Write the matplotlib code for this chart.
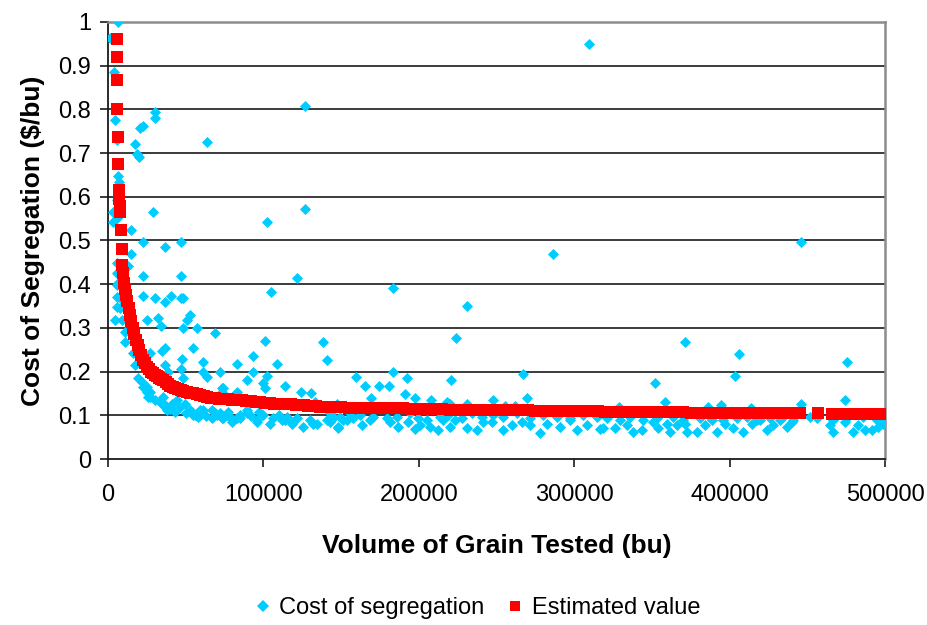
import matplotlib
matplotlib.use("Agg")
import matplotlib.pyplot as plt
from matplotlib.lines import Line2D
from matplotlib.ticker import FixedLocator, FuncFormatter

plt.rcParams["font.family"] = ["Liberation Sans", "DejaVu Sans"]

# observed segregation cost per bushel vs. volume tested
seg_volume = [
    6400, 1300, 3900, 4500, 5500, 30200, 30200, 20600, 22500, 63700, 17400, 18700,
    19900, 6400, 7100, 5500, 3200, 29000, 5500, 3200, 102300, 14800, 22500, 36700,
    47000, 126800, 126800, 309500, 286400, 446000, 231000, 47000, 121600, 183400,
    104900, 14800, 12900, 6400, 22500, 5500, 5500, 6600, 5500, 22500, 30200, 36700,
    40500, 47000, 48300, 7700, 5500, 7700, 5500, 4500, 8800, 25100, 32400, 33900,
    52800, 51000, 48100, 57100, 68900, 10900, 10900, 101000, 138200, 140700, 223900,
    371300, 406100, 475300, 54900, 36700, 34500, 27000, 16300, 47400, 61300, 93100,
    82800, 108600, 17400, 36700, 38800, 47000, 61300, 63500, 48500, 72100, 93100,
    89300, 102100, 99500, 101000, 73200, 74200, 113900, 124000, 130400, 73200,
    82800, 133200,
    19500, 21900, 24900, 27000, 25900, 22700, 24900, 27000, 30200, 33500, 35600,
    37800, 41000, 44200, 46300, 49500, 52800, 56000, 61300, 66700, 69900, 73200,
    76400, 34500, 36700, 54900, 59200, 37800, 53800, 59200, 77400, 69000, 74000,
    79600, 82800, 89300, 95700, 104200, 113900, 119200, 125700, 132100, 142900,
    148200,
    74200, 80600, 84900, 89300, 95700, 99900, 111800, 115000, 118200, 121400,
    130000, 134300, 140700, 145000, 151400,
    40000, 43000, 50000, 58000, 63000, 67000, 72000, 78000, 85000, 92000, 97000,
    106000, 110000,
    159600, 183200, 192200, 220500, 266900, 165400, 174600, 181000, 169000, 191100,
    197600, 207700, 218000, 220100, 230800, 247600, 269400, 255500, 261900, 147200,
    145000, 148200, 153600, 157900, 163300, 168600, 181500, 186800, 193300, 197600,
    200800, 207200, 212600, 215800, 220100, 223300, 230800, 237300, 241500, 246900,
    254400, 259800, 266200, 271600, 278000, 282300, 290900, 297300, 301600, 308000,
    316600,
    142900, 149300, 155700, 162200, 170700, 179300, 185800, 194300, 199700, 205100,
    213600, 219000, 227600, 234000, 240400, 247900, 254400, 263000, 271600, 280100,
    288700, 297300, 305900, 314500,
    352000, 403500, 358400, 329000, 386300, 394300, 413600, 445700, 474300, 456000,
    318700, 326200, 333800, 338000, 343400, 350900, 354100, 359500, 361600, 365900,
    371300, 372400, 378800, 384200, 388500, 391700, 397000, 402400, 408800, 414200,
    419600, 423900, 428100, 432400, 436700, 439900, 464600, 466700, 474300, 479600,
    482800, 487100, 491400, 495700, 498900,
    320900, 329500, 335900, 344500, 353100, 363800, 370300, 380900, 387400, 396000,
    404600, 411000, 417500, 426000, 434600, 441000, 451700, 466700, 475300, 486000,
    494700,
]
seg_cost = [
    1.000, 0.963, 0.886, 0.776, 0.730, 0.794, 0.780, 0.757, 0.762, 0.725, 0.721, 0.698,
    0.691, 0.648, 0.634, 0.593, 0.565, 0.565, 0.552, 0.542, 0.542, 0.524, 0.497, 0.485,
    0.497, 0.808, 0.572, 0.950, 0.469, 0.497, 0.350, 0.419, 0.414, 0.391,
    0.382, 0.469, 0.442, 0.423, 0.419, 0.449, 0.425, 0.402, 0.398, 0.373, 0.368, 0.359,
    0.373, 0.368, 0.368, 0.368, 0.371, 0.345, 0.348, 0.318, 0.318, 0.318, 0.322, 0.304,
    0.330, 0.318, 0.299, 0.299, 0.288, 0.291, 0.268, 0.271, 0.267, 0.227, 0.276,
    0.268, 0.240, 0.223, 0.253, 0.253, 0.246, 0.242, 0.242, 0.228, 0.223, 0.236,
    0.217, 0.217, 0.215, 0.215, 0.200, 0.207, 0.200, 0.188, 0.185, 0.200, 0.200,
    0.181, 0.190, 0.173, 0.162, 0.162, 0.162, 0.167, 0.154, 0.150, 0.154,
    0.154, 0.131,
    0.185, 0.176, 0.165, 0.153, 0.143, 0.165, 0.154, 0.143, 0.135, 0.131, 0.143,
    0.120, 0.127, 0.135, 0.120, 0.127, 0.112, 0.101, 0.112, 0.112, 0.101, 0.093,
    0.101, 0.131, 0.120, 0.101, 0.112, 0.112, 0.108, 0.101, 0.108, 0.105, 0.094,
    0.085, 0.093, 0.105, 0.085, 0.081, 0.089, 0.085, 0.074, 0.081, 0.085,
    0.074,
    0.097, 0.089, 0.101, 0.112, 0.089, 0.101, 0.089, 0.097, 0.081, 0.093,
    0.089, 0.081, 0.089, 0.097, 0.089,
    0.115, 0.108, 0.105, 0.095, 0.098, 0.093, 0.105, 0.098, 0.093, 0.098, 0.108,
    0.093, 0.101,
    0.188, 0.200, 0.185, 0.181, 0.195, 0.167, 0.167, 0.167, 0.139, 0.149,
    0.139, 0.135, 0.131, 0.127, 0.127, 0.135, 0.139, 0.121, 0.121, 0.127,
    0.093, 0.070, 0.089, 0.093, 0.078, 0.089, 0.085, 0.074, 0.085, 0.068,
    0.078, 0.074, 0.066, 0.089, 0.074, 0.089, 0.070, 0.066, 0.085, 0.085,
    0.066, 0.078, 0.085, 0.078, 0.060, 0.081, 0.074, 0.089, 0.066, 0.078,
    0.068,
    0.105, 0.097, 0.105, 0.101, 0.097, 0.093, 0.097, 0.105, 0.093, 0.089,
    0.097, 0.101, 0.093, 0.105, 0.097, 0.101, 0.097, 0.105, 0.093, 0.101,
    0.097, 0.093, 0.101, 0.097,
    0.175, 0.190, 0.130, 0.120, 0.120, 0.124, 0.116, 0.127, 0.135, 0.093,
    0.070, 0.070, 0.078, 0.062, 0.066, 0.085, 0.070, 0.081, 0.062, 0.078,
    0.081, 0.062, 0.062, 0.078, 0.089, 0.062, 0.081, 0.070, 0.062, 0.081,
    0.089, 0.066, 0.078, 0.089, 0.074, 0.085, 0.078, 0.062, 0.085, 0.062,
    0.078, 0.066, 0.066, 0.074, 0.081,
    0.093, 0.089, 0.097, 0.089, 0.093, 0.097, 0.089, 0.093, 0.097, 0.089,
    0.093, 0.097, 0.089, 0.093, 0.097, 0.089, 0.097, 0.089, 0.093, 0.097,
    0.089,
]

# fitted (estimated) cost curve
est_volume = [
    5500, 5600, 5700, 5800, 6200, 6400, 7000, 7300, 7600, 8000, 8400, 8800, 9300,
    9800, 10300, 10900, 11600, 12500, 13300, 14200, 15100, 16100, 17000, 18000,
    19000, 20000, 21200, 22500, 23800, 25100, 26300, 27500, 28800, 30200, 31500,
    32800, 34100, 35400, 37000, 38500, 40000, 41500, 43200, 45000, 46700, 48500,
    50600, 52800, 54900, 57000, 59200, 61500, 63900, 66300, 68900, 71500, 74300,
    77200, 80100, 83000, 86000, 89000, 92000, 95000, 98000, 101000, 104000, 107000,
    110000, 113000, 115500, 118000, 121000, 123500, 126000, 129000, 131500, 134000,
    136500, 139000, 142000, 144800, 147500,
    150000, 155000, 160000, 165000, 170000, 175000, 180000, 185000,
    190000, 195000, 200000, 205000, 210000, 215000, 220000, 225000,
    230000, 235000, 240000, 245000, 250000, 255000, 260000, 265000,
    270000, 275000, 280000, 285000, 290000, 295000, 300000, 305000,
    310000, 315000, 320000, 325000, 330000, 335000, 340000, 345000,
    350000, 355000, 360000, 365000, 370000, 375000, 380000, 385000,
    390000, 395000, 400000, 405000, 410000, 415000, 420000, 425000,
    430000, 435000, 440000, 445000,
    457000,
    466000, 471000, 476000, 481000, 486000, 491000, 495000, 498700,
]
est_cost = [
    0.961, 0.920, 0.867, 0.800, 0.737, 0.675, 0.616, 0.595, 0.580, 0.565, 0.525,
    0.480, 0.445, 0.425, 0.403, 0.390, 0.375, 0.362, 0.345, 0.330, 0.315, 0.300,
    0.287, 0.272, 0.260, 0.249, 0.238, 0.227, 0.219, 0.211, 0.205, 0.200, 0.196,
    0.192, 0.189, 0.186, 0.183, 0.181, 0.176, 0.172, 0.168, 0.165, 0.162, 0.160,
    0.157, 0.155, 0.153, 0.151, 0.150, 0.148, 0.146, 0.144, 0.142, 0.140, 0.139,
    0.138, 0.137, 0.137, 0.136, 0.135, 0.134, 0.133, 0.132, 0.131, 0.130, 0.129,
    0.128, 0.127, 0.127, 0.126, 0.125, 0.125, 0.124, 0.124, 0.123, 0.122, 0.122,
    0.121, 0.120, 0.119, 0.119, 0.118, 0.118,
    0.118, 0.117, 0.117, 0.117, 0.116, 0.116, 0.116, 0.116,
    0.116, 0.115, 0.115, 0.115, 0.114, 0.114, 0.113, 0.113,
    0.113, 0.112, 0.112, 0.112, 0.112, 0.111, 0.111, 0.111,
    0.111, 0.110, 0.110, 0.110, 0.110, 0.109, 0.109, 0.109,
    0.109, 0.109, 0.108, 0.108, 0.108, 0.108, 0.108, 0.107,
    0.107, 0.107, 0.107, 0.107, 0.107, 0.106, 0.106, 0.106,
    0.106, 0.106, 0.106, 0.106, 0.105, 0.105, 0.105, 0.105,
    0.105, 0.105, 0.105, 0.105,
    0.105,
    0.104, 0.104, 0.104, 0.104, 0.104, 0.104, 0.104, 0.104,
]

x_ticks = [0, 100000, 200000, 300000, 400000, 500000]
y_ticks = [0, 0.1, 0.2, 0.3, 0.4, 0.5, 0.6, 0.7, 0.8, 0.9, 1]
y_tick_labels = ["0", "0.1", "0.2", "0.3", "0.4", "0.5", "0.6", "0.7", "0.8", "0.9", "1"]

BLUE = "#00CCFF"
RED = "#FF0000"

fig = plt.figure(figsize=(9.28, 6.25), dpi=100)
ax = fig.add_axes([0.1164, 0.2656, 0.8373, 0.6992])

ax.scatter(seg_volume, seg_cost, marker="D", s=32, color=BLUE, linewidths=0,
           zorder=3)
ax.scatter(est_volume, est_cost, marker="s", s=72, color=RED, linewidths=0,
           zorder=4)

ax.set_xlim(0, 500000)
ax.set_ylim(0, 1)
ax.xaxis.set_major_locator(FixedLocator(x_ticks))
ax.xaxis.set_major_formatter(FuncFormatter(lambda v, p: f"{int(v)}"))
ax.set_yticks(y_ticks)
ax.set_yticklabels(y_tick_labels)

# horizontal gridlines only, Excel style
for y in y_ticks[1:-1]:
    ax.axhline(y, color="#1a1a1a", linewidth=1.2, zorder=1)

for side in ["top", "right"]:
    ax.spines[side].set_color("#8c8c8c")
    ax.spines[side].set_linewidth(1.8)
for side in ["left", "bottom"]:
    ax.spines[side].set_color("#1a1a1a")
    ax.spines[side].set_linewidth(1.3)

ax.tick_params(axis="both", direction="out", length=6, width=1.2,
               color="#1a1a1a", labelsize=17)
ax.tick_params(axis="y", pad=6)
ax.tick_params(axis="x", pad=12)

ax.set_xlabel("Volume of Grain Tested (bu)", fontsize=19, fontweight="bold",
              labelpad=20)
ax.set_ylabel(r"Cost of Segregation (\$/bu)", fontsize=19, fontweight="bold",
              labelpad=10)

handles = [
    Line2D([], [], linestyle="none", marker="D", markersize=6,
           markerfacecolor=BLUE, markeredgewidth=0),
    Line2D([], [], linestyle="none", marker="s", markersize=7,
           markerfacecolor=RED, markeredgewidth=0),
]
fig.legend(handles, ["Cost of segregation", "Estimated value"], loc="center",
           bbox_to_anchor=(0.515, 0.027), ncol=2, frameon=False, fontsize=17,
           handlelength=0.6, handletextpad=0.4, columnspacing=1.0)

fig.savefig("out.png", dpi=100)
